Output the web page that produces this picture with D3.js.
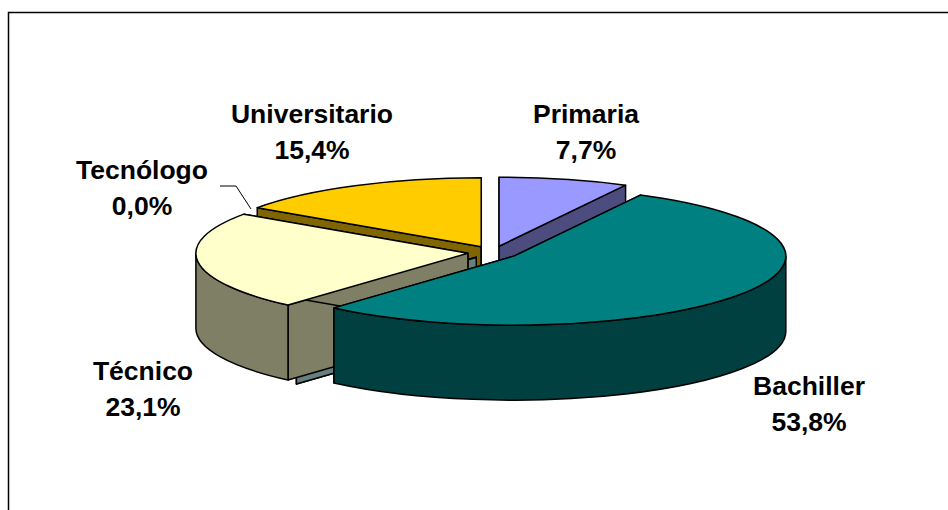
<!DOCTYPE html>
<html>
<head>
<meta charset="utf-8">
<script src="https://d3js.org/d3.v7.min.js"></script>
<style>
html, body { margin: 0; padding: 0; background: #fff; }
text { font-family: "Liberation Sans", Arial, sans-serif; font-weight: bold; font-size: 26.5px; fill: #000; text-anchor: middle; }
</style>
</head>
<body>
<svg id="chart" width="948" height="510"></svg>
<script>
const categories = ["Primaria", "Bachiller", "Tecnólogo", "Técnico", "Universitario"],
    values = [7.7, 53.8, 0.0, 23.1, 15.4],
    topColors = ["#9999ff", "#008080", "#ccffff", "#ffffcc", "#ffcc00"],
    sideColors = ["#4c4c7f", "#004040", "#668080", "#7f7f66", "#7f6600"],
    labelX = [586, 809, 142, 143, 312],
    labelY = [114, 386, 170, 371, 114],
    drawOrder = ["Universitario", "Primaria", "Tecnólogo", "Técnico", "Bachiller"];

const svg = d3.select("#chart"),
    cx = 493, cy = 252.5,     // pie centre before the slices are pulled out
    rx = 272, ry = 69,
    depth = 75,
    explode = 0.093,
    pctFormat = d3.format(".1f");

const slices = d3.pie().sort(null)(values).map((d, i) => {
    const mid = (d.startAngle + d.endAngle) / 2;
    return {
        name: categories[i], value: d.value, i: i,
        a0: d.startAngle, a1: d.endAngle,
        ax: cx + explode * rx * Math.sin(mid),
        ay: cy - explode * ry * Math.cos(mid)
    };
});

function rim(s, a) {
    return [s.ax + rx * Math.sin(a), s.ay - ry * Math.cos(a)];
}

function topPath(s) {
    const p0 = rim(s, s.a0), p1 = rim(s, s.a1),
        large = s.a1 - s.a0 > Math.PI ? 1 : 0;
    return `M${s.ax},${s.ay}L${p0}A${rx},${ry} 0 ${large} 1 ${p1}Z`;
}

function wallPath(s, a) {
    const p = rim(s, a);
    return `M${s.ax},${s.ay}L${p}L${p[0]},${p[1] + depth}L${s.ax},${s.ay + depth}Z`;
}

// outer curved wall, only the part facing the viewer (90 to 270 degrees)
function outerPath(s) {
    const a0 = Math.max(s.a0, Math.PI / 2), a1 = Math.min(s.a1, Math.PI * 3 / 2);
    if (a1 <= a0) return null;
    const p0 = rim(s, a0), p1 = rim(s, a1);
    return `M${p0}A${rx},${ry} 0 0 1 ${p1}L${p1[0]},${p1[1] + depth}` +
        `A${rx},${ry} 0 0 0 ${p0[0]},${p0[1] + depth}Z`;
}

// frame, open at the right and bottom of the picture
svg.append("path")
    .attr("d", "M8.5,510V12.5H948")
    .attr("fill", "none").attr("stroke", "#000").attr("stroke-width", 1.5);

const g = svg.selectAll("g.slice")
    .data(drawOrder.map(n => slices.find(s => s.name === n)))
    .enter().append("g")
    .attr("class", "slice")
    .attr("stroke", "#000")
    .attr("stroke-width", 1.5)
    .attr("stroke-linejoin", "round");

g.append("path").attr("d", d => wallPath(d, d.a0)).attr("fill", d => sideColors[d.i]);
g.append("path").attr("d", d => wallPath(d, d.a1)).attr("fill", d => sideColors[d.i]);
g.filter(d => outerPath(d) !== null).append("path")
    .attr("d", outerPath).attr("fill", d => sideColors[d.i]);
g.append("path").attr("d", topPath).attr("fill", d => topColors[d.i]);

// leader line for the empty slice
svg.append("polyline")
    .attr("points", "220,186 236,186 251,209")
    .attr("fill", "none").attr("stroke", "#000").attr("stroke-width", 1);

const labels = svg.selectAll("text.label")
    .data(slices)
    .enter().append("text")
    .attr("class", "label")
    .attr("x", d => labelX[d.i])
    .attr("y", d => labelY[d.i]);

labels.append("tspan").attr("x", d => labelX[d.i]).attr("dy", 9).text(d => d.name);
labels.append("tspan").attr("x", d => labelX[d.i]).attr("dy", 36)
    .text(d => pctFormat(d.value).replace(".", ",") + "%");
</script>
</body>
</html>
